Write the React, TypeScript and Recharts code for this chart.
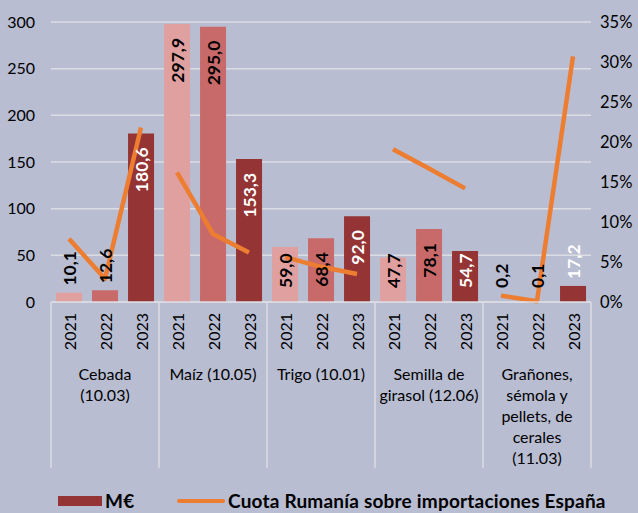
import { ComposedChart, Bar, Line, XAxis, YAxis, CartesianGrid, Cell, LabelList } from 'recharts';

const years = ['2021', '2022', '2023'];
const groupLines = [
  ['Cebada', '(10.03)'],
  ['Maíz (10.05)'],
  ['Trigo (10.01)'],
  ['Semilla de', 'girasol (12.06)'],
  ['Grañones,', 'sémola y', 'pellets, de', 'cerales', '(11.03)'],
];
// M€ per category and year (2021, 2022, 2023)
const valuesM = [10.1, 12.6, 180.6, 297.9, 295.0, 153.3, 59.0, 68.4, 92.0, 47.7, 78.1, 54.7, 0.2, 0.1, 17.2];
// cuota Rumanía sobre importaciones España, %
const sharePct = [7.9, 2.9, 21.8, 16.2, 8.5, 6.2, 5.6, 4.4, 3.5, 19.1, 16.7, 14.2, 0.8, 0.1, 30.7];
const leftTicks = [0, 50, 100, 150, 200, 250, 300];
const rightTicks = [0, 5, 10, 15, 20, 25, 30, 35];

const yearColors = ['#e0a0a0', '#c96a6a', '#943434'];
const labelColors = ['#000000', '#000000', '#ffffff'];
const orange = '#ed7d31';
const bg = '#b8bdd2';
const grid = '#dcdde3';
const font = 'Lato, sans-serif';

const rows = valuesM.map((v, i) => {
  const g = Math.floor(i / 3);
  const row: any = { key: `${g}-${years[i % 3]}`, year: years[i % 3], m: v };
  row[`s${g}`] = sharePct[i];
  return row;
});

function CatTick(props: any) {
  const { x, y, payload, index } = props;
  const n = rows.length;
  const half = payload && payload.offset > 0 ? payload.offset : (props.width || 540) / n / 2;
  const i = index;
  const g = Math.floor(i / 3);
  return (
    <g>
      <text
        transform={`translate(${x},${y + 11}) rotate(-90)`}
        textAnchor="end"
        dominantBaseline="central"
        fontSize={16}
        fontFamily={font}
        fill="#000"
      >
        {rows[i].year}
      </text>
      {i % 3 === 0 && <line x1={x - half} x2={x - half} y1={y} y2={y + 166} stroke={grid} strokeWidth={1.5} />}
      {i === n - 1 && <line x1={x + half} x2={x + half} y1={y} y2={y + 166} stroke={grid} strokeWidth={1.5} />}
      {i % 3 === 1 && (
        <text x={x} y={y + 71} textAnchor="middle" dominantBaseline="central" fontSize={16} fontFamily={font} fill="#000">
          {groupLines[g].map((l, k) => (
            <tspan key={k} x={x} dy={k === 0 ? 0 : 21}>
              {l}
            </tspan>
          ))}
        </text>
      )}
    </g>
  );
}

function BarLabel(props: any) {
  const { x, y, width, height, index } = props;
  const v = valuesM[index];
  const txt = v.toFixed(1).replace('.', ',');
  const cx = x + width / 2;
  const top = y;
  const base = y + height;
  const estLen = txt.replace(',', '').length * 10 + 4;
  let anchor: 'start' | 'end' = 'end';
  let ay = top + 14;
  if (height < 30) {
    anchor = 'start';
    ay = Math.min(base - 14, top - 7);
  } else if (top + 14 + estLen > base - 14) {
    anchor = 'start';
    ay = base - 14;
  }
  return (
    <text
      transform={`translate(${cx},${ay}) rotate(-90)`}
      textAnchor={anchor}
      dominantBaseline="central"
      fontSize={17.5}
      fontWeight={700}
      fontFamily={font}
      fill={labelColors[index % 3]}
    >
      {txt}
    </text>
  );
}

export default function App() {
  return (
    <div style={{ position: 'absolute', left: 0, top: 0, width: 638, height: 513, background: bg, fontFamily: font }}>
      <ComposedChart width={638} height={513} data={rows} margin={{ top: 22, right: 0, bottom: 41, left: 6 }} barCategoryGap="14%">
        <CartesianGrid vertical={false} stroke={grid} strokeWidth={1.5} yAxisId="m" />
        <XAxis
          dataKey="key"
          interval={0}
          height={170}
          tickLine={false}
          tickSize={0}
          tickMargin={0}
          axisLine={{ stroke: grid, strokeWidth: 1.5 }}
          tick={<CatTick />}
        />
        <YAxis
          yAxisId="m"
          orientation="left"
          width={45}
          domain={[0, 300]}
          ticks={leftTicks}
          axisLine={false}
          tickLine={false}
          tickSize={0}
          tickMargin={16}
          tick={{ fontSize: 16, fill: '#000', fontFamily: font }}
        />
        <YAxis
          yAxisId="pct"
          orientation="right"
          width={47}
          domain={[0, 35]}
          ticks={rightTicks}
          axisLine={false}
          tickLine={false}
          tickSize={0}
          tickMargin={9}
          tickFormatter={(v) => `${v}%`}
          tick={{ fontSize: 16.5, fill: '#000', fontFamily: font, textAnchor: 'start' }}
        />
        <Bar yAxisId="m" dataKey="m" isAnimationActive={false}>
          {rows.map((r, i) => (
            <Cell key={r.key} fill={yearColors[i % 3]} />
          ))}
          <LabelList dataKey="m" content={<BarLabel />} />
        </Bar>
        {groupLines.map((_, g) => (
          <Line
            key={g}
            yAxisId="pct"
            dataKey={`s${g}`}
            stroke={orange}
            strokeWidth={4.5}
            strokeLinejoin="round"
            dot={false}
            activeDot={false}
            connectNulls={false}
            isAnimationActive={false}
          />
        ))}
      </ComposedChart>
      <div style={{ position: 'absolute', left: 0, top: 490, width: 638, height: 22, fontWeight: 700, fontSize: 19, letterSpacing: 0.2 }}>
        <span style={{ position: 'absolute', left: 58, top: 6, width: 44, height: 10, background: yearColors[2] }} />
        <span style={{ position: 'absolute', left: 105, top: 0, lineHeight: '22px' }}>M€</span>
        <span style={{ position: 'absolute', left: 177, top: 9, width: 48, height: 4, borderRadius: 2, background: orange }} />
        <span style={{ position: 'absolute', left: 228, top: 0, lineHeight: '22px', whiteSpace: 'nowrap' }}>
          Cuota Rumanía sobre importaciones España
        </span>
      </div>
    </div>
  );
}
